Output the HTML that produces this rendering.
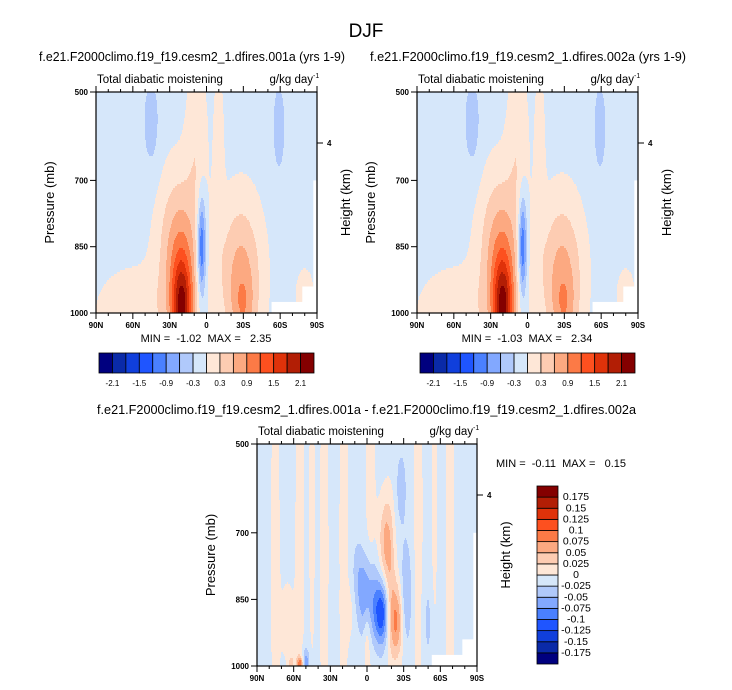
<!DOCTYPE html>
<html><head><meta charset="utf-8"><style>
html,body{margin:0;padding:0;background:#fff;}
svg{display:block;font-family:"Liberation Sans",Arial,sans-serif;}
text{white-space:pre;}
</style></head><body>
<svg id="chart" width="732" height="690" viewBox="0 0 732 690" xmlns="http://www.w3.org/2000/svg">
<text x="366" y="37" font-size="19" text-anchor="middle">DJF</text>
<g id="g1"></g>
<g id="g2"></g>
<g id="g3"></g>
</svg>
<script>
// ---- data ----
const latTicks = [90,60,30,0,-30,-60,-90];
const latTickLabels = ["90N","60N","30N","0","30S","60S","90S"];
const presTicks = [500,700,850,1000];
const levelsMain = [-2.1,-1.8,-1.5,-1.2,-0.9,-0.6,-0.3,0,0.3,0.6,0.9,1.2,1.5,1.8,2.1];
const levelsMainLabels = ["-2.1","-1.5","-0.9","-0.3","0.3","0.9","1.5","2.1"];
const levelsDiff = [-0.175,-0.15,-0.125,-0.1,-0.075,-0.05,-0.025,0,0.025,0.05,0.075,0.1,0.125,0.15,0.175];
const levelsDiffLabels = ["-0.175","-0.15","-0.125","-0.1","-0.075","-0.05","-0.025","0","0.025","0.05","0.075","0.1","0.125","0.15","0.175"];
const colors = ["#00007f","#0a2aa8","#103fdc","#1f55ff","#4a80ff","#82a8ff","#b0c9fb","#d6e7fa","#fee7d7","#fdccb2","#fca981","#fc7a46","#fd501f","#df320a","#b21e05","#840000"];
// blobs: [lat, pressure, latWidth, presWidth, amplitude]
const bgMain = -0.12;
const blobsMain = [
 [20,1000,6,85,1.9],[22,860,12,120,0.9],[8,600,6,120,0.35],[58,1000,22,70,0.35],
 [-28,920,12,120,0.85],[-30,990,6,50,0.35],[-10,640,3,140,0.32],[4,850,2.5,80,-1.3],
 [45,570,5,80,-0.33],[-59,580,4,80,-0.33],[-80,960,6,50,0.25]
];
const bgDiff = -0.01;
const blobsDiff = [
 [-15,720,4,70,0.06],[-24,900,4,60,0.085],[-19,810,3,120,0.035],[-12,880,4,50,-0.11],
 [-4,850,4,70,-0.055],[3,840,4,60,-0.05],[8,780,3,50,-0.02],[-32,840,3,80,-0.045],
 [-42,700,3,400,0.02],[-3,650,3,300,0.022],[19,700,3,400,0.02],[35,750,3,400,0.02],
 [55,700,3,400,0.02],[75,750,3,400,0.02],[0,930,2,60,0.03],[65,900,4,80,0.018],
 [15,880,3,40,0.02],[-68,750,3,400,0.02],[-55,650,2,300,0.018],[45,650,2,300,0.018],
 [55,995,2,12,0.09],[62,995,1.5,12,0.05],[50,990,2,20,-0.06],
 [-28,600,3,60,-0.03],[-50,900,3,80,-0.02]
];
const masksMain = [[-53,975,-90,1000],[-78,940,-90,1000],[-87,700,-90,1000]];
// ---- helpers ----
const NS="http://www.w3.org/2000/svg";
function mk(tag,attrs,parent){const e=document.createElementNS(NS,tag);for(const k in attrs)e.setAttribute(k,attrs[k]);parent.appendChild(e);return e;}
function field(lat,p,bg,blobs){let v=bg;for(const b of blobs){const a=(lat-b[0])/b[2],c=(p-b[1])/b[3];v+=b[4]*Math.exp(-0.5*(a*a+c*c));}return v;}
function lvl(v,levels){let i=0;while(i<levels.length&&v>=levels[i])i++;return i;}
function panel(g,x0,x1,y0,y1,bg,blobs,levels,subtitle,stX0,stX1,stY){
 const X=lat=>x0+(90-lat)/180*(x1-x0);
 const Y=p=>y0+(p-500)/500*(y1-y0);
 const cells=mk('g',{},g);
 
 
 const rh=2;
 for(let y=y0;y<y1;y+=rh){
  const p=500+((y+rh/2)-y0)/(y1-y0)*500;
  let start=x0,cur=-1;
  for(let x=x0;x<=x1;x++){
   let li=-1;
   if(x<x1){const lat=90-((x+0.5)-x0)/(x1-x0)*180;li=lvl(field(lat,p,bg,blobs),levels);}
   if(li!==cur){
    if(cur>=0){const r=mk('rect',{x:start,y:y,width:x-start,height:Math.min(rh,y1-y)+0.3,fill:colors[cur]},cells);
     
     }
    start=x;cur=li;}
  }
 }
 for(const m of masksMain){const r=mk('rect',{x:X(m[0]),y:Y(m[1]),width:X(m[2])-X(m[0])+1,height:Y(m[3])-Y(m[1]),fill:'#fff'},g);
  
  }
 const fr=mk('rect',{x:x0,y:y0,width:x1-x0,height:y1-y0,fill:'none',stroke:'#000','stroke-width':1.2},g);
 
 
 for(let lat=90;lat>=-90;lat-=10){const len=(lat%30===0)?6:3;const x=X(lat);
  mk('line',{x1:x,x2:x,y1:y1,y2:y1+len,stroke:'#000','stroke-width':1},g);
  mk('line',{x1:x,x2:x,y1:y0,y2:y0-len,stroke:'#000','stroke-width':1},g);}
 latTicks.forEach((lat,i)=>{const t=mk('text',{x:X(lat),y:y1+15,'font-size':8,'text-anchor':'middle','font-weight':'bold'},g);t.textContent=latTickLabels[i];
  
  });
 presTicks.forEach(p=>{mk('line',{x1:x0-6,x2:x0,y1:Y(p),y2:Y(p),stroke:'#000'},g);
  const t=mk('text',{x:x0-8,y:Y(p)+3,'font-size':8,'text-anchor':'end','font-weight':'bold'},g);t.textContent=p;
  
  });
 const yh=y0+51;
 mk('line',{x1:x1,x2:x1+6,y1:yh,y2:yh,stroke:'#000'},g);
 const t4=mk('text',{x:x1+10,y:yh+3,'font-size':8,'font-weight':'bold'},g);t4.textContent='4';
 
 
 const yl=mk('text',{x:0,y:0,'font-size':13,'text-anchor':'middle',transform:`translate(${x0-42},${(y0+y1)/2}) rotate(-90)`},g);yl.textContent='Pressure (mb)';
 
 
 const hl=mk('text',{x:0,y:0,'font-size':13,'text-anchor':'middle',transform:`translate(${x1+33},${(y0+y1)/2}) rotate(-90)`},g);hl.textContent='Height (km)';
 
 
 const lt=mk('text',{x:x0+1,y:y0-9,'font-size':11.5},g);lt.textContent='Total diabatic moistening';
 
 
 const ut=mk('text',{x:x1-4,y:y0-9,'font-size':11.5,'text-anchor':'end'},g);ut.textContent='g/kg day';
 
 
 const us=mk('text',{x:x1-4,y:y0-14,'font-size':7},g);us.textContent='-1';
 const st=mk('text',{x:stX0,y:stY,'font-size':12.5,textLength:stX1-stX0,lengthAdjust:'spacingAndGlyphs'},g);st.textContent=subtitle;
 
 
}
function hbar(g,x0,x1,y0,y1){
 const w=(x1-x0)/16;
 colors.forEach((c,i)=>{const r=mk('rect',{x:x0+i*w,y:y0,width:w,height:y1-y0,fill:c,stroke:'#000','stroke-width':0.8},g);
  
  });
 levelsMainLabels.forEach((l,i)=>{const t=mk('text',{x:x0+(2*i+1)*w,y:y1+13,'font-size':8,'text-anchor':'middle'},g);t.textContent=l;
  
  });
}
function minmax(g,x,y,txt){const t=mk('text',{x:x,y:y,'font-size':11,'text-anchor':'middle'},g);t.textContent=txt;
 
 }
const g1=document.getElementById('g1'),g2=document.getElementById('g2'),g3=document.getElementById('g3');
panel(g1,96,317,92,313,bgMain,blobsMain,levelsMain,'f.e21.F2000climo.f19_f19.cesm2_1.dfires.001a (yrs 1-9)',39,345,61);
hbar(g1,99,314,353,373);minmax(g1,206,342,'MIN =  -1.02  MAX =   2.35');
panel(g2,417,638,92,313,bgMain,blobsMain,levelsMain,'f.e21.F2000climo.f19_f19.cesm2_1.dfires.002a (yrs 1-9)',370,686,61);
hbar(g2,420,635,353,373);minmax(g2,527,342,'MIN =  -1.03  MAX =   2.34');
panel(g3,257,477,444,666,bgDiff,blobsDiff,levelsDiff,'f.e21.F2000climo.f19_f19.cesm2_1.dfires.001a - f.e21.F2000climo.f19_f19.cesm2_1.dfires.002a',97,636,414);
minmax(g3,561,467,'MIN =  -0.11  MAX =   0.15');
(function(){const x0=537,x1=558,y0=486,y1=664,h=(y1-y0)/16;
 colors.forEach((c,i)=>{const r=mk('rect',{x:x0,y:y1-(i+1)*h,width:x1-x0,height:h,fill:c,stroke:'#000','stroke-width':0.8},g3);
  
  });
 levelsDiffLabels.forEach((l,i)=>{const t=mk('text',{x:576,y:y1-(i+1)*h+3,'font-size':10.5,'text-anchor':'middle'},g3);t.textContent=l;
  
  });
})();
</script>
</body></html>
